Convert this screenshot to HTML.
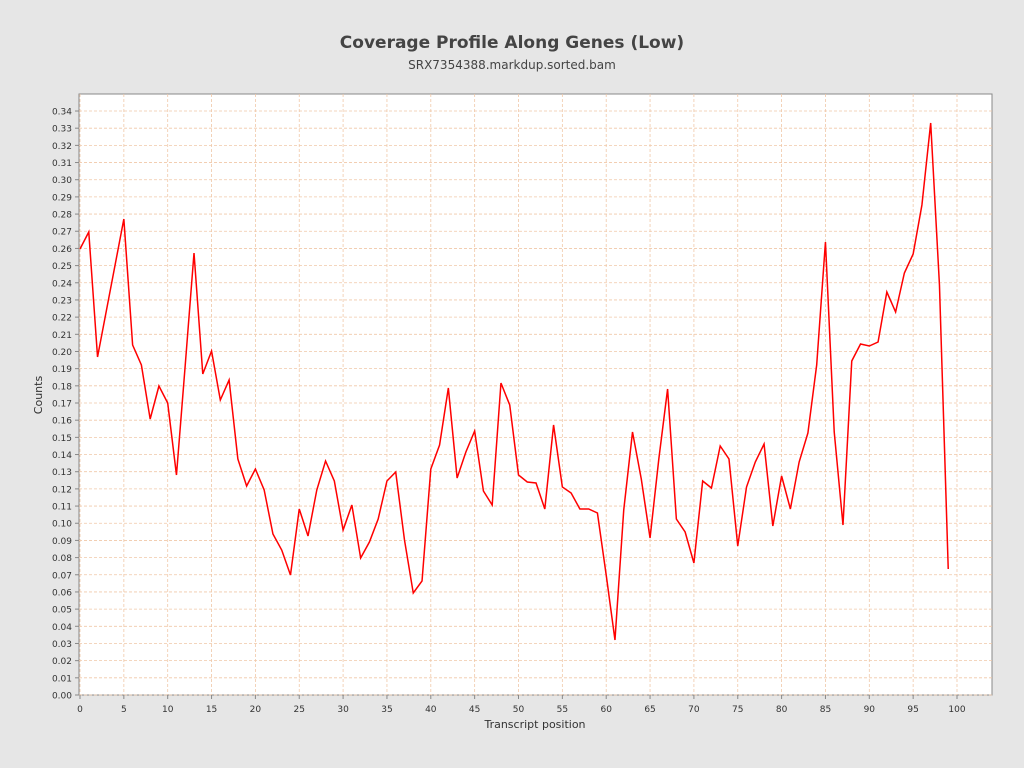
<!DOCTYPE html>
<html><head><meta charset="utf-8"><style>
body{margin:0;background:#e6e6e6;}
svg{display:block;font-family:"DejaVu Sans","Liberation Sans",sans-serif;}
</style></head><body>
<svg id="s" width="1024" height="768" xmlns="http://www.w3.org/2000/svg">
<rect width="1024" height="768" fill="#e6e6e6"/>
<text x="512" y="48" text-anchor="middle" font-size="17" font-weight="bold" fill="#444">Coverage Profile Along Genes (Low)</text>
<text x="512" y="69" text-anchor="middle" font-size="12" fill="#444">SRX7354388.markdup.sorted.bam</text>
<rect x="79" y="94" width="913" height="601" fill="#fff" stroke="#888"/>
<g id="g"></g>
<text x="535" y="728" text-anchor="middle" font-size="11" fill="#333">Transcript position</text>
<text transform="translate(42,395) rotate(-90)" text-anchor="middle" font-size="11" fill="#333">Counts</text>
</svg>
<script>
var g=document.getElementById('g'),h='';
function X(v){return 80+v*8.77;}
function Y(v){return 695-v*1717.6;}
for(var i=0;i<=34;i++){var y=Y(i/100);
h+='<line x1="79" x2="992" y1="'+y+'" y2="'+y+'" stroke="#f0c8a8" stroke-dasharray="3,2" stroke-width="0.8"/>';
h+='<line x1="75" x2="79" y1="'+y+'" y2="'+y+'" stroke="#888"/>';
h+='<text x="72" y="'+(y+3.5)+'" text-anchor="end" font-size="9" fill="#333">'+(i/100).toFixed(2)+'</text>';}
for(var i=0;i<=100;i+=5){var x=X(i);
h+='<line y1="94" y2="695" x1="'+x+'" x2="'+x+'" stroke="#f0c8a8" stroke-dasharray="3,2" stroke-width="0.8"/>';
h+='<line y1="695" y2="699" x1="'+x+'" x2="'+x+'" stroke="#888"/>';
h+='<text y="712" x="'+x+'" text-anchor="middle" font-size="9" fill="#333">'+i+'</text>';}
var py=[249,232,357,311,265,219,345,365,419,386,403,475,365,253,374,351,400,380,459,486,469,490,534,550,575,509,536,490,461,481,530,505,558,542,519,481,472,540,593,581,469,445,388,478,452,431,491,505,383,405,475,482,483,509,425,487,493,509,509,513,575,640,510,432,479,538,459,389,519,532,563,481,488,446,459,546,487,462,444,526,476,509,462,433,365,242,432,525,361,344,346,342,292,312,273,254,205,123,285,569];
var p=py.map(function(y,i){return X(i)+','+y;}).join(' ');
h+='<polyline points="'+p+'" fill="none" stroke="#f00" stroke-width="1.5"/>';
g.innerHTML=h;
</script>
</body></html>
